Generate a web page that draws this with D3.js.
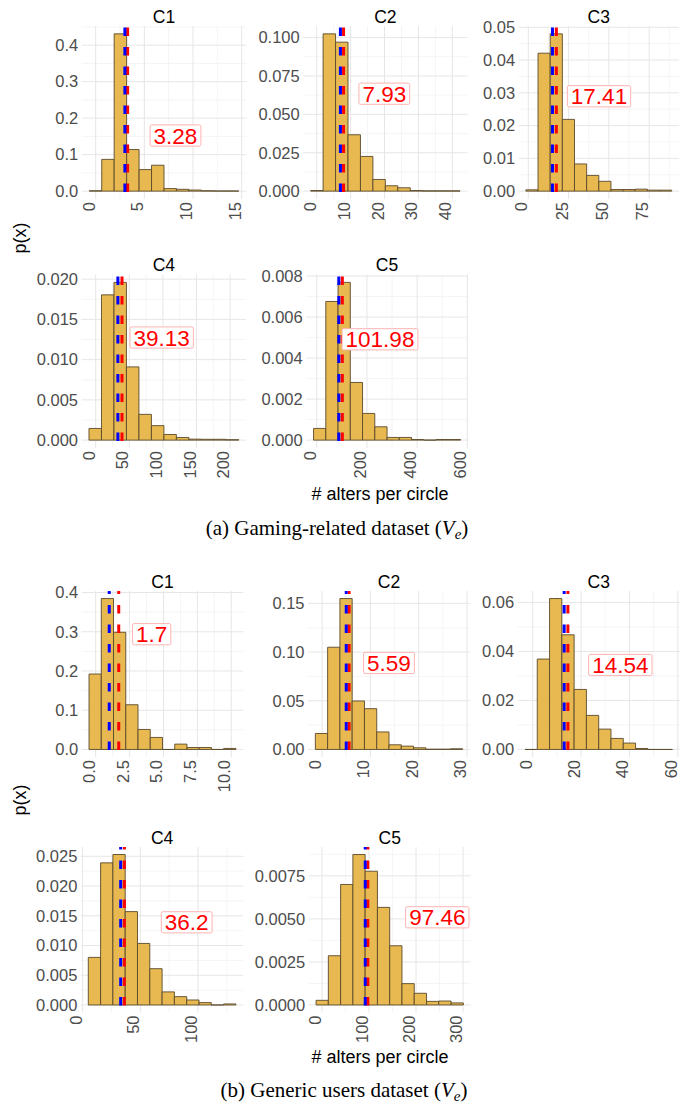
<!DOCTYPE html>
<html>
<head>
<meta charset="utf-8">
<script src="https://cdn.jsdelivr.net/npm/d3@7"></script>
<style>
  body { margin: 0; background: #fff; }
  svg { display: block; }
</style>
</head>
<body>
<svg id="chart" width="694" height="1104"></svg>
<script>
// ---------- data ----------
var circleNames = ["C1", "C2", "C3", "C4", "C5"];

// (a) gaming-related dataset: first bin edge, bin width, density per bin
var gamingBinStart = [-0.66, -1.77, -1.49, -10, -12.7];
var gamingBinWidth = [1.28, 3.67, 7.54, 18.58, 48.8];
var gamingDensity = [
  [0.001, 0.087, 0.431, 0.114, 0.059, 0.071, 0.007, 0.005, 0.003, 0.001, 0.0005, 0.0005],
  [0.0004, 0.1024, 0.097, 0.0367, 0.0226, 0.0076, 0.0035, 0.0022, 0.0004, 0.0002, 0.0002, 0.0002],
  [0.0004, 0.0421, 0.048, 0.0219, 0.0083, 0.0048, 0.003, 0.0005, 0.0005, 0.0006, 0.0003, 0.0003],
  [0.00145, 0.01805, 0.0196, 0.0091, 0.0032, 0.0018, 0.0007, 0.00033, 0.00012, 0.0001, 0.0001, 0.00005],
  [0.00057, 0.00676, 0.00769, 0.00281, 0.0013, 0.00065, 0.00013, 0.00013, 0.00003, 0, 0.00003, 0.00003]
];
var gamingMedian = [3, 7, 15, 33, 88];
var gamingMean = [3.28, 7.93, 17.41, 39.13, 101.98];
var gamingXTicks = [[0, 5, 10, 15], [0, 10, 20, 30, 40], [0, 25, 50, 75], [0, 50, 100, 150, 200], [0, 200, 400, 600]];
var gamingYTicks = [
  [0, 0.1, 0.2, 0.3, 0.4],
  [0, 0.025, 0.05, 0.075, 0.1],
  [0, 0.01, 0.02, 0.03, 0.04, 0.05],
  [0, 0.005, 0.01, 0.015, 0.02],
  [0, 0.002, 0.004, 0.006, 0.008]
];

// (b) generic users dataset
var genericBinStart = [-0.49, -1.39, -3.2, 4.9, -12.6];
var genericBinWidth = [0.903, 2.54, 5.08, 10.67, 26.1];
var genericDensity = [
  [0.1923, 0.3847, 0.2987, 0.114, 0.051, 0.0306, 0, 0.0136, 0.005, 0.005, 0, 0.0026],
  [0.0164, 0.105, 0.155, 0.0498, 0.0419, 0.018, 0.0048, 0.0034, 0.0017, 0.0003, 0.0003, 0.0007],
  [0, 0.0369, 0.0616, 0.0468, 0.0245, 0.0139, 0.0083, 0.0045, 0.0026, 0.0004, 0, 0],
  [0.008, 0.0239, 0.0253, 0.0157, 0.01035, 0.0061, 0.0022, 0.0014, 0.00084, 0.0004, 0, 0.00017],
  [0.00027, 0.00286, 0.007, 0.00874, 0.00777, 0.00567, 0.00344, 0.00124, 0.00068, 0.00021, 0.00023, 0.00012]
];
var genericMedian = [1, 5, 13, 33, 92];
var genericMean = [1.7, 5.59, 14.54, 36.2, 97.46];
var genericXTicks = [[0, 2.5, 5, 7.5, 10], [0, 10, 20, 30], [0, 20, 40, 60], [0, 50, 100], [0, 100, 200, 300]];
var genericYTicks = [
  [0, 0.1, 0.2, 0.3, 0.4],
  [0, 0.05, 0.1, 0.15],
  [0, 0.02, 0.04, 0.06],
  [0, 0.005, 0.01, 0.015, 0.02, 0.025],
  [0, 0.0025, 0.005, 0.0075]
];

// ---------- layout (panel boxes, label spots, tick formats) ----------
var gamingLayout = [
  {x0: 81.8, x1: 246.2, y0: 26, y1: 199, lx: 175.5, ly: 135.5, xf: "d", yf: ".1f"},
  {x0: 303.2, x1: 467.5, y0: 26, y1: 199, lx: 384.3, ly: 93.7, xf: "d", yf: ".3f"},
  {x0: 518.6, x1: 679, y0: 26, y1: 199, lx: 599, ly: 96.3, xf: "d", yf: ".2f"},
  {x0: 81.5, x1: 246.3, y0: 274.5, y1: 448, lx: 161.7, ly: 337.5, xf: "d", yf: ".3f"},
  {x0: 306.2, x1: 467.9, y0: 274.5, y1: 448, lx: 380, ly: 339.3, xf: "d", yf: ".3f"}
];
var genericLayout = [
  {x0: 81.7, x1: 243.3, y0: 591, y1: 757, lx: 151.7, ly: 634.2, xf: ".1f", yf: ".1f"},
  {x0: 308, x1: 470, y0: 591, y1: 757, lx: 389, ly: 663, xf: "d", yf: ".2f"},
  {x0: 517.6, x1: 679.8, y0: 591, y1: 757, lx: 620.3, ly: 665, xf: "d", yf: ".2f"},
  {x0: 80.9, x1: 243.3, y0: 847, y1: 1012.5, lx: 186.7, ly: 922.3, xf: "d", yf: ".3f"},
  {x0: 308.7, x1: 470.7, y0: 847, y1: 1012.5, lx: 437.3, ly: 917.3, xf: "d", yf: ".4f"}
];

var SANS = "'Liberation Sans', Arial, sans-serif";
var SERIF = "'Liberation Serif', 'Times New Roman', serif";
var svg = d3.select("#chart");

// midpoints between major breaks, kept inside the domain
function minorBreaks(ticks, dom) {
  var step = ticks[1] - ticks[0], out = [];
  for (var v = ticks[0] - step / 2; v <= ticks[ticks.length - 1] + step / 2 + 1e-9; v += step) {
    if (v >= dom[0] && v <= dom[1]) out.push(v);
  }
  return out;
}

function drawPanel(name, start, width, dens, median, mean, xTicks, yTicks, box) {
  var g = svg.append("g");
  var lo = start, hi = start + dens.length * width, pad = (hi - lo) * 0.05;
  var x = d3.scaleLinear().domain([lo - pad, hi + pad]).range([box.x0, box.x1]);
  var top = d3.max(dens);
  var y = d3.scaleLinear().domain([-0.05 * top, 1.05 * top]).range([box.y1, box.y0]);

  // grid
  var grid = g.append("g");
  grid.selectAll(".mx").data(minorBreaks(xTicks, x.domain())).enter().append("line")
    .attr("x1", function (d) { return x(d); }).attr("x2", function (d) { return x(d); })
    .attr("y1", box.y0).attr("y2", box.y1)
    .attr("stroke", "#f0f0f0").attr("stroke-width", 0.7);
  grid.selectAll(".my").data(minorBreaks(yTicks, y.domain())).enter().append("line")
    .attr("y1", function (d) { return y(d); }).attr("y2", function (d) { return y(d); })
    .attr("x1", box.x0).attr("x2", box.x1)
    .attr("stroke", "#f0f0f0").attr("stroke-width", 0.7);
  grid.selectAll(".Mx").data(xTicks).enter().append("line")
    .attr("x1", function (d) { return x(d); }).attr("x2", function (d) { return x(d); })
    .attr("y1", box.y0).attr("y2", box.y1)
    .attr("stroke", "#e6e6e6").attr("stroke-width", 1);
  grid.selectAll(".My").data(yTicks).enter().append("line")
    .attr("y1", function (d) { return y(d); }).attr("y2", function (d) { return y(d); })
    .attr("x1", box.x0).attr("x2", box.x1)
    .attr("stroke", "#e6e6e6").attr("stroke-width", 1);

  // histogram bars (paths so that empty bins still show their outline)
  var bins = dens.map(function (d, i) { return {a: start + i * width, b: start + (i + 1) * width, d: d}; });
  g.selectAll(".bar").data(bins).enter().append("path")
    .attr("d", function (b) {
      return "M" + x(b.a) + "," + y(0) + "V" + y(b.d) + "H" + x(b.b) + "V" + y(0) + "Z";
    })
    .attr("fill", "#e7b950").attr("stroke", "#5a4a2c").attr("stroke-width", 0.9);

  // median (blue) and mean (red) dashed lines
  [[mean, "#ff0000"], [median, "#0000ff"]].forEach(function (m) {
    g.append("line")
      .attr("x1", x(m[0])).attr("x2", x(m[0]))
      .attr("y1", box.y1).attr("y2", box.y0)
      .attr("stroke", m[1]).attr("stroke-width", 3)
      .attr("stroke-dasharray", "8.5,11").attr("stroke-dashoffset", 12.5);
  });

  // axes
  var ya = g.append("g").attr("transform", "translate(" + box.x0 + ",0)")
    .call(d3.axisLeft(y).tickValues(yTicks).tickFormat(d3.format(box.yf)).tickSize(0).tickPadding(3.5));
  var xa = g.append("g").attr("transform", "translate(0," + box.y1 + ")")
    .call(d3.axisBottom(x).tickValues(xTicks).tickFormat(d3.format(box.xf)).tickSize(0));
  [ya, xa].forEach(function (a) {
    a.select(".domain").remove();
    a.attr("font-family", SANS).attr("font-size", 16.5);
    a.selectAll("text").attr("fill", "#4d4d4d");
  });
  xa.selectAll("text")
    .attr("transform", "rotate(-90)")
    .attr("text-anchor", "end")
    .attr("x", -3).attr("y", -1.5).attr("dy", "0");

  // title
  g.append("text").attr("x", (box.x0 + box.x1) / 2).attr("y", box.y0 - 3.5)
    .attr("text-anchor", "middle").attr("font-family", SANS).attr("font-size", 17.5)
    .attr("fill", "#000").text(name);

  // mean label
  var fs = 22.5;
  var lab = g.append("g");
  var t = lab.append("text").attr("x", box.lx).attr("y", box.ly + 0.36 * fs)
    .attr("text-anchor", "middle").attr("font-family", SANS).attr("font-size", fs)
    .attr("fill", "#ff0000").text(String(mean));
  var w = t.node().getComputedTextLength();
  lab.insert("rect", "text")
    .attr("x", box.lx - w / 2 - 3.5).attr("y", box.ly - 0.36 * fs - 2.5)
    .attr("width", w + 7).attr("height", 0.72 * fs + 5).attr("rx", 1.5)
    .attr("fill", "#fff").attr("stroke", "#ffb3b3").attr("stroke-width", 1);
}

circleNames.forEach(function (n, i) {
  drawPanel(n, gamingBinStart[i], gamingBinWidth[i], gamingDensity[i], gamingMedian[i], gamingMean[i],
    gamingXTicks[i], gamingYTicks[i], gamingLayout[i]);
  drawPanel(n, genericBinStart[i], genericBinWidth[i], genericDensity[i], genericMedian[i], genericMean[i],
    genericXTicks[i], genericYTicks[i], genericLayout[i]);
});

// shared axis titles
[238, 800].forEach(function (cy) {
  svg.append("text").attr("transform", "translate(20," + cy + ") rotate(-90)")
    .attr("text-anchor", "middle").attr("dy", "0.35em")
    .attr("font-family", SANS).attr("font-size", 18).attr("fill", "#000").text("p(x)");
});
[500, 1063].forEach(function (by) {
  svg.append("text").attr("x", 380).attr("y", by).attr("text-anchor", "middle")
    .attr("font-family", SANS).attr("font-size", 18).attr("fill", "#000").text("# alters per circle");
});

// captions
function caption(cx, by, lead) {
  var t = svg.append("text").attr("x", cx).attr("y", by).attr("text-anchor", "middle")
    .attr("font-family", SERIF).attr("font-size", 21).attr("fill", "#000");
  t.append("tspan").text(lead + " (");
  t.append("tspan").attr("font-style", "italic").text("V");
  t.append("tspan").attr("font-style", "italic").attr("font-size", 15).attr("dy", 4).text("e");
  t.append("tspan").attr("dy", -4).text(")");
}
caption(337, 535, "(a) Gaming-related dataset");
caption(344, 1097, "(b) Generic users dataset");
</script>
</body>
</html>
